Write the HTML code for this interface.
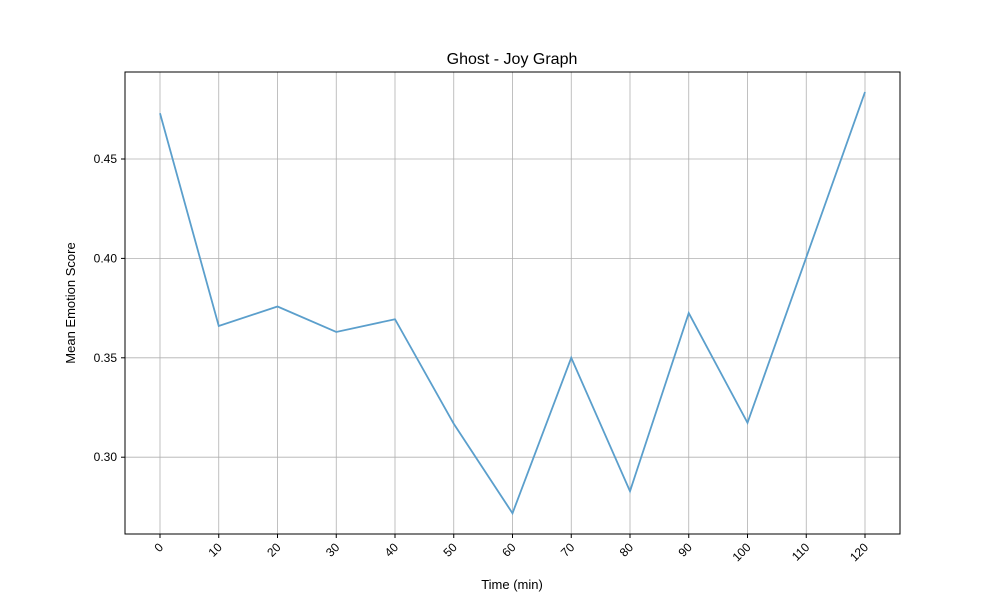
<!DOCTYPE html>
<html><head><meta charset="utf-8"><style>
body{margin:0;background:#fff;}
svg{font-family:"Liberation Sans","DejaVu Sans",sans-serif;}
</style></head><body>
<svg id="chart" width="1000" height="600" viewBox="0 0 1000 600">
<rect width="1000" height="600" fill="#fff"/>
<g id="grid"></g>
<g id="ticks"></g>
<polyline id="series" fill="none" stroke="#5b9fcc" stroke-width="1.8"/>
<rect x="125" y="72" width="775" height="462" fill="none" stroke="#000" stroke-width="1"/>
<text x="512" y="64" text-anchor="middle" font-size="16">Ghost - Joy Graph</text>
<text x="512" y="589" text-anchor="middle" font-size="13">Time (min)</text>
<text transform="translate(75,303) rotate(-90)" text-anchor="middle" font-size="13">Mean Emotion Score</text>
</svg>
<script>
const times=[0,10,20,30,40,50,60,70,80,90,100,110,120];
const scores=[0.473,0.366,0.3758,0.363,0.3694,0.3168,0.2718,0.350,0.2829,0.3725,0.3173,0.4005,0.4837];
const yTicks=[0.30,0.35,0.40,0.45];
const xTicks=[0,10,20,30,40,50,60,70,80,90,100,110,120];
const X=t=>160+t*(705/120);
const Y=v=>159+(0.45-v)*(99.4/0.05);
const NS="http://www.w3.org/2000/svg";
const grid=document.getElementById('grid'),ticks=document.getElementById('ticks');
function mk(tag,attrs,parent){const e=document.createElementNS(NS,tag);for(const k in attrs)e.setAttribute(k,attrs[k]);parent.appendChild(e);return e;}
xTicks.forEach(t=>{
 const x=X(t);
 const g=mk('line',{x1:x,x2:x,y1:72,y2:534,stroke:'#b0b0b0','stroke-width':0.8},grid);
 
 
 mk('line',{x1:x,x2:x,y1:534,y2:538,stroke:'#000'},ticks);
 const tx=mk('text',{x:0,y:0,'font-size':12,'text-anchor':'end',transform:`translate(${x+4},${548}) rotate(-45)`},ticks);
 tx.textContent=t;
 
 
});
yTicks.forEach(v=>{
 const y=Y(v);
 const g=mk('line',{x1:125,x2:900,y1:y,y2:y,stroke:'#b0b0b0','stroke-width':0.8},grid);
 
 
 mk('line',{x1:121,x2:125,y1:y,y2:y,stroke:'#000'},ticks);
 const tx=mk('text',{x:117,y:y+4,'font-size':12,'text-anchor':'end'},ticks);
 tx.textContent=v.toFixed(2);
 
 
});
document.getElementById('series').setAttribute('points',times.map((t,i)=>X(t)+','+Y(scores[i])).join(' '));
</script>
</body></html>
